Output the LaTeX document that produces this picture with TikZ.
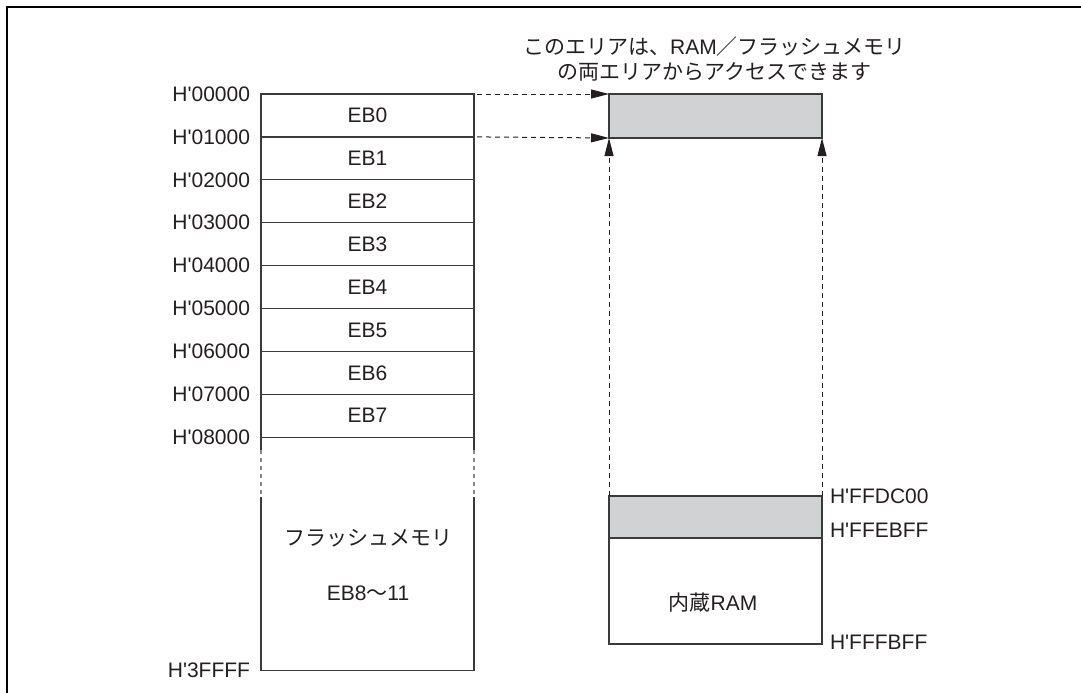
\documentclass[tikz,border=0pt]{standalone}
\usepackage{fontspec}
\setmainfont{Liberation Sans}[Ligatures=TeXOff]
\newfontfamily\jp{Noto Sans CJK JP}
\usetikzlibrary{arrows.meta}
\definecolor{ink}{HTML}{231F20}
\definecolor{linec}{HTML}{3A3A3A}
\definecolor{shade}{HTML}{D1D2D4}
\begin{document}
\begin{tikzpicture}[x=1pt,y=-1pt,
  font=\fontsize{21}{26}\selectfont,
  every node/.style={text=ink},
  cell/.style={draw=linec,line width=1.2pt,minimum width=213pt,inner sep=0pt,outer sep=0pt},
  region/.style={inner sep=0pt,outer sep=0pt,minimum width=213pt},
  addr/.style={inner sep=0pt,outer sep=0pt},
  memline/.style={draw=linec,line width=1.2pt},
  breakline/.style={draw=linec!60,line width=1.2pt,dash pattern=on 4pt off 4pt},
  dasharrow/.style={draw=ink,line width=1pt,dash pattern=on 5pt off 4pt,-{Triangle[length=18pt,width=9pt]}},
  ]
\useasboundingbox (0,0) rectangle (1081,693);
\clip (0,0) rectangle (1081,693);
% outer frame
\draw[black,line width=2pt] (7,7) rectangle (1100,720);

% flash EB cells
\foreach \i in {0,...,7}{
  \node[cell,minimum height=42.9pt] (eb\i) at (367.5,{94+42.9*\i+21.45}) {EB\i};
}
% address labels left
\foreach \a/\i in {00000/0,01000/1,02000/2,03000/3,04000/4,05000/5,06000/6,07000/7}{
  \node[addr,anchor=east] (la\i) at ([xshift=-11pt]eb\i.north west) {H'\a};
}
\node[addr,anchor=east] (la8) at ([xshift=-11pt]eb7.south west) {H'08000};

% remaining flash region
\node[region,minimum height=233pt,anchor=north] (flash) at (eb7.south) {};
\draw[memline] (flash.north west) -- ++(0,13);
\draw[breakline] ([yshift=-13pt]flash.north west) -- ++(0,47);
\draw[memline] ([yshift=-60pt]flash.north west) -- (flash.south west) -- (flash.south east) -- ([yshift=-60pt]flash.north east);
\draw[breakline] ([yshift=-13pt]flash.north east) -- ++(0,47);
\draw[memline] (flash.north east) -- ++(0,13);
\node (flashname) at (368,538) {\jp フラッシュメモリ};
\node (flashrange) at (368,593) {EB8{\jp ～}11};
\node[addr,anchor=east] (la9) at ([xshift=-11pt]flash.south west) {H'3FFFF};

% right side RAM
\node[cell,fill=shade,minimum height=44pt] (ramtop) at (715.5,116) {};
\node[cell,fill=shade,minimum height=42pt] (ramshade) at (715.5,517) {};
\node[cell,minimum height=106pt,anchor=north] (ram) at (ramshade.south) {};
\node (ramname) at (713,603) {{\jp 内蔵}RAM};
\node[addr,anchor=west] (r1) at ([xshift=8pt]ramshade.north east) {H'FFDC00};
\node[addr,anchor=west] (r2) at ([xshift=8pt,yshift=8pt]ramshade.south east) {H'FFEBFF};
\node[addr,anchor=west] (r3) at ([xshift=8pt,yshift=2pt]ram.south east) {H'FFFBFF};

% note
\node[align=center,inner sep=0pt] (note) at (714.5,58.5) {{\jp このエリアは、}RAM{\jp ／フラッシュメモリ}\\[-1pt]{\jp の両エリアからアクセスできます}};

% arrows
\draw[dasharrow] ([xshift=3pt]eb0.north east) -- (ramtop.north west);
\draw[dasharrow] ([xshift=3pt]eb0.south east) -- (ramtop.south west);
\draw[dasharrow] (ramshade.north west) -- (ramtop.south west);
\draw[dasharrow] (ramshade.north east) -- (ramtop.south east);
\end{tikzpicture}
\end{document}
